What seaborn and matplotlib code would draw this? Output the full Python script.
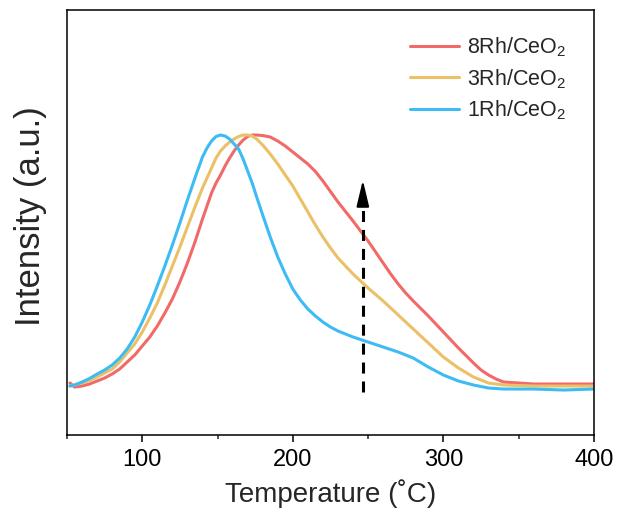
import numpy as np
import pandas as pd
import matplotlib
matplotlib.use("Agg")
import matplotlib.pyplot as plt
import seaborn as sns

# ---- data ----
temps = [52, 55, 60, 65, 70, 75, 80, 85, 90, 95, 100, 105, 110, 115, 120, 125, 130, 135,
         140, 143, 146, 149, 152, 155, 158, 161, 164, 167, 170, 173, 176, 180, 185,
         190, 195, 200, 205, 210, 215, 220, 225, 230, 235, 240, 250, 260, 265, 270,
         275, 280, 290, 300, 310, 320, 325, 330, 335, 340, 350, 360, 380, 400]

rh8 = [52, 48, 49, 51, 54, 57, 61, 66, 73, 80, 89, 98, 109, 122, 136, 153, 172, 193,
       216, 229, 242, 252, 260, 269, 277, 284, 290, 295, 298.5, 300, 300, 299.5, 298,
       294, 289, 283, 277, 271, 263.5, 254, 243.5, 233, 223.5, 214, 194, 172, 161, 151,
       142, 134, 119, 103, 87, 72, 65, 60, 56, 53, 52, 51, 51, 51]

rh3 = [49, 50, 52, 54.5, 58, 62, 66, 73, 82, 91, 103, 117, 132, 150, 169, 188, 208, 228,
       247, 257, 267, 277, 284, 289, 293, 296, 298.5, 300, 300, 299, 296, 290, 281,
       271, 260, 249, 236, 223, 210, 198, 187, 177, 169, 161, 147, 134, 127, 120,
       113, 106, 92, 78, 67, 58, 55, 52, 51, 50, 49.5, 49, 49, 49]

rh1 = [49, 50, 53, 56.5, 61, 65, 70, 77, 86, 98, 113, 130, 149, 169, 190, 212, 235, 257,
       278, 287, 294, 298.5, 300, 299, 296, 291, 286, 276, 264, 252, 238, 220, 198,
       178, 161, 146, 135, 126, 119, 113, 108, 104, 101, 98, 93, 88, 85.5, 83,
       80, 77, 68, 60, 54, 50, 48.5, 47, 46.5, 46, 46, 46, 45, 46]

labels = ["8Rh/CeO$_2$", "3Rh/CeO$_2$", "1Rh/CeO$_2$"]
colors = ["#F06A68", "#EBC066", "#3DBBF5"]
xticks = [100, 200, 300, 400]
arrow_T = 246.5
arrow_I = [43, 255]

df = pd.concat([
    pd.DataFrame({"T": temps, "I": vals, "sample": lab})
    for vals, lab in zip([rh8, rh3, rh1], labels)
], ignore_index=True)

sns.set_style("ticks")
plt.rcParams["font.family"] = ["Liberation Sans", "DejaVu Sans"]
plt.rcParams["mathtext.fontset"] = "custom"
plt.rcParams["mathtext.rm"] = "Liberation Sans"
plt.rcParams["mathtext.it"] = "Liberation Sans:italic"
plt.rcParams["mathtext.bf"] = "Liberation Sans:bold"

fig = plt.figure(figsize=(6.2, 5.19), dpi=100)
ax = fig.add_axes([0.108, 0.1618, 0.85, 0.8189])

sns.lineplot(data=df, x="T", y="I", hue="sample", hue_order=labels,
             palette=dict(zip(labels, colors)), linewidth=2.2, ax=ax,
             sort=False, estimator=None)

# dashed arrow
ax.plot([arrow_T, arrow_T], [arrow_I[0], arrow_I[1] - 22], color="black",
        lw=2.2, dashes=(3.6, 2.6), solid_capstyle="butt")
ax.annotate("", xy=(arrow_T, arrow_I[1]), xytext=(arrow_T, arrow_I[1] - 24),
            arrowprops=dict(arrowstyle="-|>,head_length=1.6,head_width=0.38",
                            color="black", lw=1.5, mutation_scale=10,
                            shrinkA=0, shrinkB=0))

ax.set_xlim(50, 400)
ax.set_ylim(0, 425)
ax.set_xticks(xticks)
ax.set_xticks([50, 150, 250, 350], minor=True)
ax.set_yticks([])
ax.tick_params(axis="x", which="major", direction="out", length=5, width=1.1,
               labelsize=17, pad=5, colors="black")
ax.tick_params(axis="x", which="minor", direction="out", length=3, width=1.1)
for s in ax.spines.values():
    s.set_visible(True)
    s.set_linewidth(1.1)
    s.set_color("black")

ax.set_xlabel("Temperature (˚C)", fontsize=20, labelpad=6)
ax.set_ylabel("Intensity (a.u.)", fontsize=25)
ax.yaxis.set_label_coords(-0.037, 0.515)

handles, labs = ax.get_legend_handles_labels()
leg = ax.legend(handles, labs, loc="upper right", bbox_to_anchor=(0.984, 0.985),
                frameon=False, fontsize=15.5, handlelength=2.3,
                handletextpad=0.35, labelspacing=0.35)
for h in leg.get_lines():
    h.set_linewidth(2.2)

fig.savefig("out.png", dpi=100)
